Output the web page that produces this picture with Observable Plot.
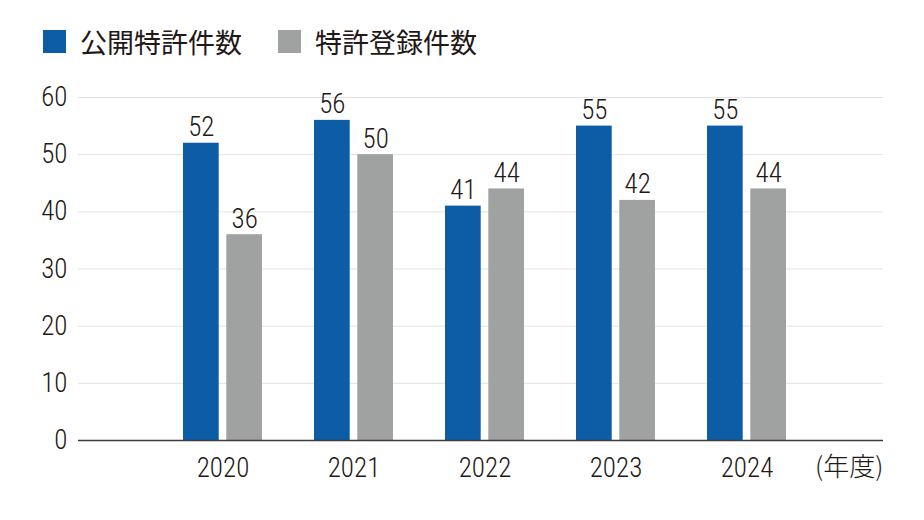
<!DOCTYPE html>
<html><head><meta charset="utf-8">
<script src="https://cdn.jsdelivr.net/npm/d3@7"></script>
<script src="https://cdn.jsdelivr.net/npm/@observablehq/plot@0.6"></script>
<style>
html,body{margin:0;padding:0;background:#fff;}
body{width:924px;height:520px;overflow:hidden;}
#legend{box-sizing:border-box;height:70px;padding:29px 0 0 43px;display:flex;align-items:flex-start;font-family:"Noto Sans CJK JP",sans-serif;font-size:27px;color:#231815;line-height:25px;}
#legend .item{display:flex;align-items:center;height:25px;margin-right:36px;}
#legend .sw{width:23px;height:23px;margin-right:14px;display:inline-block;}
svg text{font-weight:300;}
</style></head>
<body>
<div id="legend"></div>
<div id="chart"></div>
<script>
const years = ["2020","2021","2022","2023","2024"];
const published = [52,56,41,55,55];
const registered = [36,50,44,42,44];
const seriesNames = ["公開特許件数","特許登録件数"];
const seriesColors = ["#0d5ca6","#a0a1a1"];
const yTicks = [0,10,20,30,40,50,60];
const unitLabel = "(年度)";

const legend = document.getElementById("legend");
seriesNames.forEach((n,i)=>{
  const it = document.createElement("span"); it.className="item";
  const sw = document.createElement("span"); sw.className="sw"; sw.style.background=seriesColors[i];
  it.appendChild(sw); it.appendChild(document.createTextNode(n)); legend.appendChild(it);
});

const pubData = years.map((y,i)=>({year:y, value:published[i]}));
const regData = years.map((y,i)=>({year:y, value:registered[i]}));
const numFont = '"Roboto Condensed","Liberation Sans Narrow","Roboto",sans-serif';

const chart = Plot.plot({
  width: 924,
  height: 450,
  marginTop: 27,
  marginBottom: 80,
  marginLeft: 78,
  marginRight: 41,
  style: {fontFamily: numFont, fontSize: "27px", color: "#231815", background: "#fff"},
  x: {domain: years, paddingInner: 0.4, paddingOuter: 0.756, align: 0.52, label: null},
  y: {domain: [0,60], label: null},
  marks: [
    Plot.gridY(yTicks, {stroke: "#e3e3e3", strokeOpacity: 1, strokeWidth: 1}),
    Plot.axisY(yTicks, {tickSize: 0, tickPadding: 11, fontSize: 27, label: null, fill: "#231815"}),
    Plot.axisX({tickSize: 0, tickPadding: 17, fontSize: 27, label: null, fill: "#231815"}),
    Plot.barY(pubData, {x: "year", y: "value", fill: seriesColors[0], insetRight: 43.3}),
    Plot.barY(regData, {x: "year", y: "value", fill: seriesColors[1], insetLeft: 43.3}),
    Plot.text(pubData, {x: "year", y: "value", text: d=>String(d.value), dx: -21.65, dy: -7, lineAnchor: "bottom", fontSize: 27, fill: "#231815"}),
    Plot.text(regData, {x: "year", y: "value", text: d=>String(d.value), dx: 21.65, dy: -7, lineAnchor: "bottom", fontSize: 27, fill: "#231815"}),
    Plot.ruleY([0], {stroke: "#3e3a39", strokeWidth: 1.5}),
    Plot.text([unitLabel], {frameAnchor: "bottom-right", textAnchor: "end", lineAnchor: "middle", dy: 27, fontSize: 26, fill: "#231815", fontFamily: '"Noto Sans CJK JP",sans-serif', fontWeight: 300})
  ]
});
document.getElementById("chart").appendChild(chart);
</script>
</body></html>
